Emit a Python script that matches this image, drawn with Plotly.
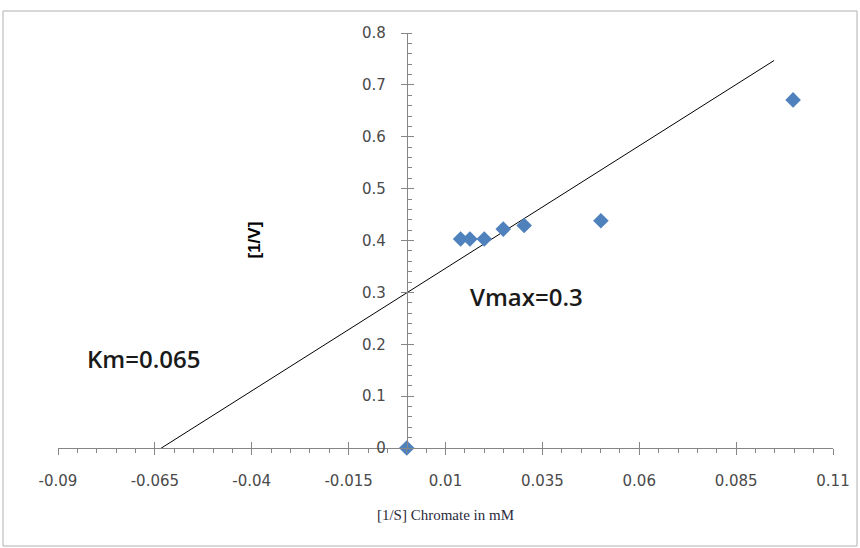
import plotly.graph_objects as go

# data
inv_s = [0.0, 0.0139, 0.0163, 0.0200, 0.0249, 0.0303, 0.0501, 0.0997]
inv_v = [0.0, 0.403, 0.403, 0.403, 0.422, 0.429, 0.438, 0.671]
trend_x = [-0.065, 0.0948]
trend_y = [-0.008, 0.747]

x_range = [-0.09, 0.1100001]
y_range = [0.0, 0.8]
x_tick0, x_dtick, x_minor_step = -0.09, 0.025, 0.005
y_dtick, y_minor_step = 0.1, 0.02
x_tick_text = ["-0.09", "-0.065", "-0.04", "-0.015"]

W, H = 860, 548
ML, MR, MT, MB = 58, 27, 33, 100
pw, ph = W - ML - MR, H - MT - MB

def px2paper(xp, yp):
    return (xp - ML) / pw, (H - MB - yp) / ph

y_axis_pos = (0 - x_range[0]) / (x_range[1] - x_range[0])

fig = go.Figure()
# empty helper traces so the overlay tick axes (cross ticks) get drawn
for xa, ya in [("x2", "y"), ("x", "y2")]:
    fig.add_trace(go.Scatter(x=[None], y=[None], xaxis=xa, yaxis=ya, mode="markers",
                             showlegend=False, hoverinfo="skip"))
fig.add_trace(go.Scatter(x=trend_x, y=trend_y, mode="lines",
                         line=dict(color="#000000", width=1), hoverinfo="skip",
                         showlegend=False))
fig.add_trace(go.Scatter(x=inv_s, y=inv_v, mode="markers",
                         marker=dict(symbol="diamond", size=12, color="#4F81BD"),
                         cliponaxis=False, showlegend=False))

axis_col = "#868686"
tick_font = dict(family="DejaVu Sans", size=15, color="#4a4a4a")
# plotly prints negatives with a true minus sign; alias them to the hyphen form
alias = {t.replace("-", "\u2212"): t for t in x_tick_text}

blank = dict(showticklabels=False, showgrid=False, zeroline=False, showline=False)

fig.update_layout(
    width=W, height=H,
    margin=dict(l=ML, r=MR, t=MT, b=MB, pad=0),
    paper_bgcolor="white", plot_bgcolor="white",
    xaxis=dict(range=x_range, tickmode="linear", tick0=x_tick0, dtick=x_dtick,
               tickformat=".3~f", labelalias=alias, automargin=False,
               showgrid=False, zeroline=False, showline=True, linecolor=axis_col,
               linewidth=1, ticks="outside", ticklen=6, tickcolor=axis_col,
               tickfont=tick_font, ticklabelstandoff=13,
               minor=dict(tick0=x_tick0, dtick=x_minor_step, ticks="outside", ticklen=4,
                          tickcolor=axis_col, showgrid=False),
               title=dict(text="[1/S] Chromate in mM",
                          font=dict(family="Liberation Serif", size=15, color="#2b2b3b"),
                          standoff=20)),
    xaxis2=dict(range=x_range, overlaying="x", anchor="y", side="bottom",
                tickmode="linear", tick0=x_tick0, dtick=x_dtick,
                ticks="inside", ticklen=6, tickcolor=axis_col, **blank),
    yaxis=dict(range=y_range, tickmode="linear", tick0=0, dtick=y_dtick, tickformat="~g",
               anchor="free", position=y_axis_pos, automargin=False,
               showgrid=False, zeroline=False, showline=True, linecolor=axis_col,
               linewidth=1, ticks="outside", ticklen=6, tickcolor=axis_col,
               tickfont=tick_font, ticklabelstandoff=12,
               minor=dict(tick0=0, dtick=y_minor_step, ticks="inside", ticklen=4,
                          tickcolor=axis_col, showgrid=False)),
    yaxis2=dict(range=y_range, overlaying="y", anchor="free", position=y_axis_pos,
                side="left", tickmode="linear", tick0=0, dtick=y_dtick,
                ticks="inside", ticklen=6, tickcolor=axis_col, **blank),
)

# chart-area border
x0, y0 = px2paper(3, 546)
x1, y1 = px2paper(857, 11)
fig.add_shape(type="rect", xref="paper", yref="paper", x0=x0, y0=y0, x1=x1, y1=y1,
              line=dict(color="#b0b0b0", width=1), layer="below")

ax, ay = px2paper(243, 240)
fig.add_annotation(xref="paper", yref="paper", x=ax, y=ay, text="<b>[1/V]</b>",
                   textangle=-90, showarrow=False,
                   font=dict(family="Liberation Sans", size=17, color="#000000"))
fig.add_annotation(x=0.0308, y=0.293, text="Vmax=0.3", showarrow=False,
                   font=dict(family="Open Sans", size=24, color="#1a1a1a", weight=600))
fig.add_annotation(x=-0.068, y=0.173, text="Km=0.065", showarrow=False,
                   font=dict(family="Open Sans", size=24, color="#1a1a1a", weight=600))

fig.write_html("out.html")
